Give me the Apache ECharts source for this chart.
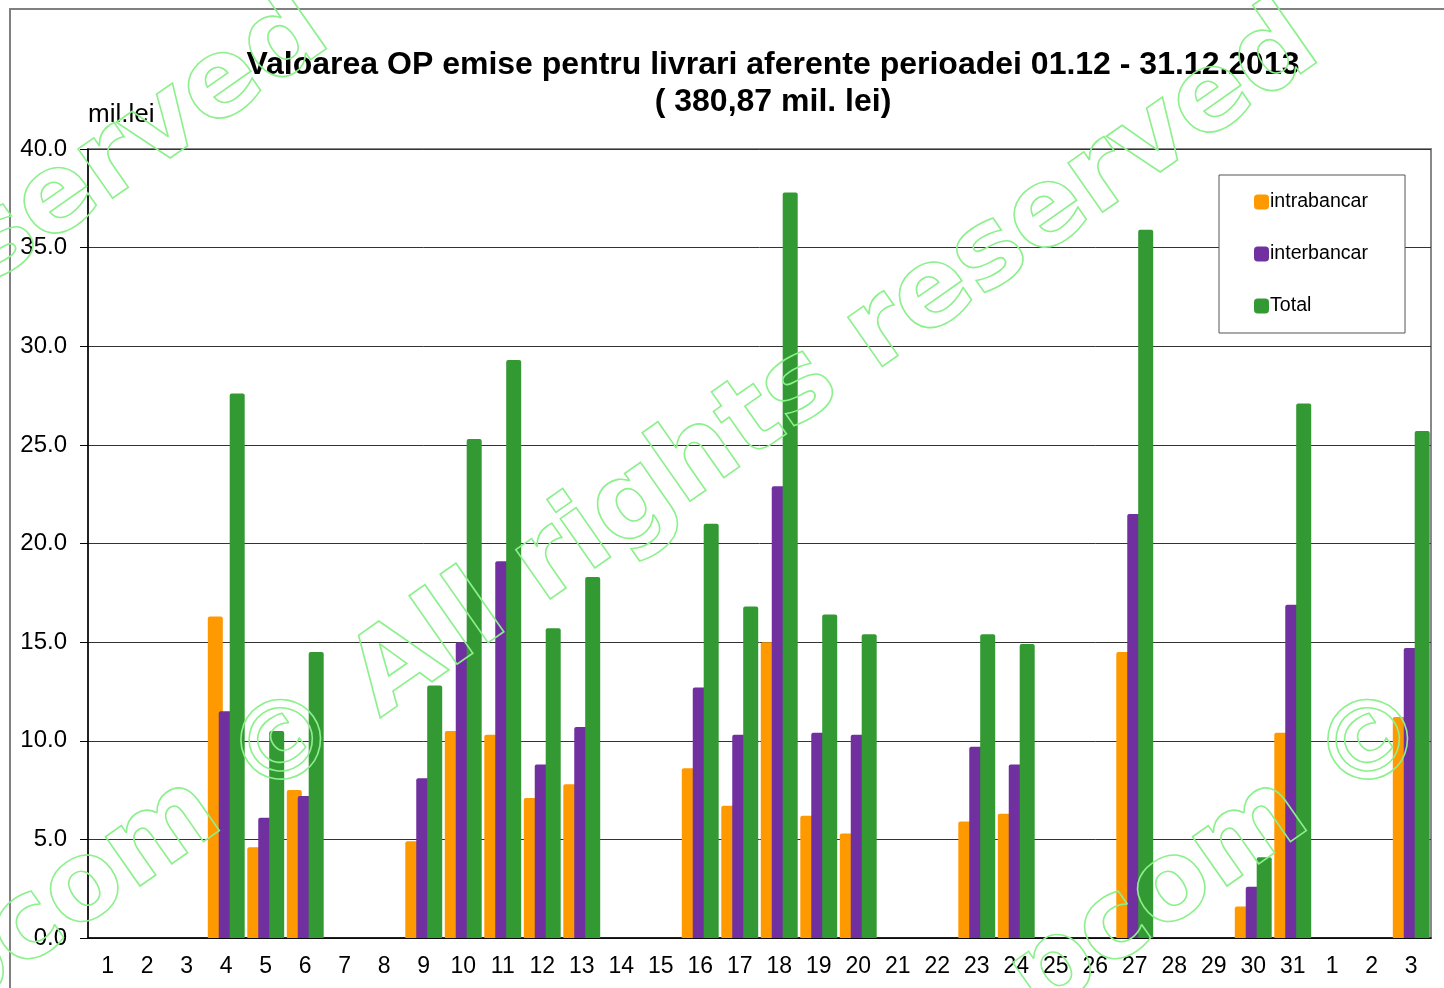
<!DOCTYPE html>
<html>
<head>
<meta charset="utf-8">
<script src="https://cdn.jsdelivr.net/npm/echarts@6/dist/echarts.min.js"></script>
<style>
    html, body { margin: 0; padding: 0; background: #fff; }
</style>
</head>
<body>
<div id="main" style="width: 1444px;height:988px;"></div>
<script>
    // zilele perioadei 01.12.2013 - 03.01.2014
    var days = ['1', '2', '3', '4', '5', '6', '7', '8', '9', '10', '11', '12', '13', '14', '15', '16', '17',
        '18', '19', '20', '21', '22', '23', '24', '25', '26', '27', '28', '29', '30', '31', '1', '2', '3'];
    var intrabancar = [null, null, null, 16.3, 4.6, 7.5, null, null, 4.9, 10.5, 10.3, 7.1, 7.8, null, null, 8.6, 6.7,
        15.0, 6.2, 5.3, null, null, 5.9, 6.3, null, null, 14.5, null, null, 1.6, 10.4, null, null, 11.2];
    var interbancar = [null, null, null, 11.5, 6.1, 7.2, null, null, 8.1, 15.0, 19.1, 8.8, 10.7, null, null, 12.7, 10.3,
        22.9, 10.4, 10.3, null, null, 9.7, 8.8, null, null, 21.5, null, null, 2.6, 16.9, null, null, 14.7];
    var total = [null, null, null, 27.6, 10.5, 14.5, null, null, 12.8, 25.3, 29.3, 15.7, 18.3, null, null, 21.0, 16.8,
        37.8, 16.4, 15.4, null, null, 15.4, 14.9, null, null, 35.9, null, null, 4.1, 27.1, null, null, 25.7];
    var yTicks = [0, 5, 10, 15, 20, 25, 30, 35, 40];

    var font = 'Liberation Sans, Arial, sans-serif';
    var wmStyle = {
        fill: 'none',
        stroke: '#8cf08c',
        lineWidth: 1.6,
        font: 'bold 110px "DejaVu Sans", Verdana, sans-serif',
        textVerticalAlign: 'middle'
    };
    var rot = 35 * Math.PI / 180;

    function wmText(x, y, text, align) {
        return {
            type: 'text',
            x: x,
            y: y,
            rotation: rot,
            z: 100,
            silent: true,
            style: Object.assign({ text: text, textAlign: align }, wmStyle)
        };
    }

    var myChart = echarts.init(document.getElementById('main'));

    var option = {
        backgroundColor: '#fff',
        animation: false,
        title: {
            text: 'Valoarea OP emise pentru livrari aferente perioadei 01.12 - 31.12.2013\n( 380,87 mil. lei)',
            left: 768,
            top: 42,
            textAlign: 'center',
            textStyle: {
                fontFamily: font,
                fontSize: 32,
                fontWeight: 'bold',
                color: '#000',
                lineHeight: 37
            }
        },
        legend: {
            orient: 'vertical',
            left: 1219,
            top: 175,
            padding: [17, 37, 17, 35],
            itemGap: 32,
            itemWidth: 15,
            itemHeight: 15,
            backgroundColor: '#fff',
            borderColor: '#555',
            borderWidth: 1,
            borderRadius: 0,
            textStyle: {
                fontFamily: font,
                fontSize: 19.6,
                color: '#000',
                padding: [0, 0, 0, -4]
            },
            data: ['intrabancar', 'interbancar', 'Total']
        },
        grid: {
            left: 88,
            top: 149,
            width: 1343,
            height: 789,
            show: true,
            borderColor: '#888',
            borderWidth: 2
        },
        xAxis: {
            type: 'category',
            data: days,
            axisLine: {
                lineStyle: { color: '#000', width: 1.5 }
            },
            axisTick: {
                length: 8,
                lineStyle: { color: '#000' }
            },
            axisLabel: {
                fontFamily: font,
                fontSize: 23,
                color: '#000',
                margin: 17
            }
        },
        yAxis: {
            type: 'value',
            min: yTicks[0],
            max: yTicks[yTicks.length - 1],
            interval: 5,
            axisLine: {
                show: true,
                lineStyle: { color: '#000', width: 1.5 }
            },
            axisTick: {
                show: true,
                length: 8,
                lineStyle: { color: '#000' }
            },
            axisLabel: {
                fontFamily: font,
                fontSize: 24,
                color: '#000',
                margin: 21,
                formatter: function (v) { return v.toFixed(1); }
            },
            splitLine: {
                lineStyle: { color: '#333', width: 1 }
            }
        },
        series: [{
            name: 'intrabancar',
            type: 'bar',
            barWidth: 15,
            barGap: '-27%',
            itemStyle: { color: '#ff9900', borderRadius: [2, 2, 0, 0] },
            data: intrabancar
        }, {
            name: 'interbancar',
            type: 'bar',
            barWidth: 15,
            barGap: '-27%',
            itemStyle: { color: '#7030a0', borderRadius: [2, 2, 0, 0] },
            data: interbancar
        }, {
            name: 'Total',
            type: 'bar',
            barWidth: 15,
            barGap: '-27%',
            itemStyle: { color: '#339933', borderRadius: [2, 2, 0, 0] },
            data: total
        }],
        graphic: [
            { type: 'line', shape: { x1: 9, y1: 9, x2: 1444, y2: 9 }, style: { stroke: '#808080', lineWidth: 2 } },
            { type: 'line', shape: { x1: 10, y1: 9, x2: 10, y2: 988 }, style: { stroke: '#808080', lineWidth: 2 } },
            {
                type: 'text', left: 88, top: 102,
                style: { text: 'mil.lei', font: '26px ' + font, fill: '#000' }
            },
            wmText(242, 780, '© All rights reserved', 'left'),
            wmText(210, 802, 'pcom', 'right'),
            wmText(1329, 780, '© All rights reserved', 'left'),
            wmText(1297, 802, 'pcom', 'right'),
            wmText(-748, 766, '© All rights reserved', 'left')
        ]
    };

    myChart.setOption(option);
</script>
</body>
</html>
